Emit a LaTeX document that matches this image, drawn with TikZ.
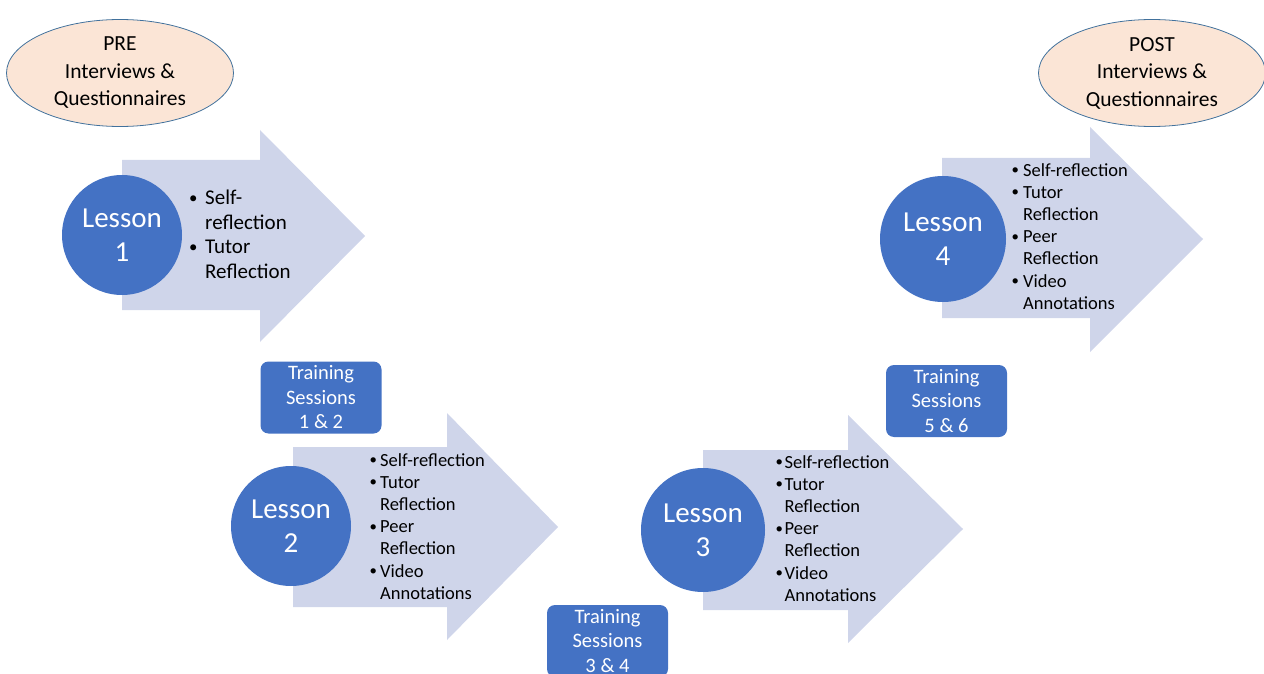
\documentclass[tikz,border=0pt]{standalone}
\usepackage{fontspec}
\usepackage{graphicx}
\setmainfont{Carlito}
\usetikzlibrary{shapes.geometric}
\definecolor{lblue}{HTML}{4472C4}
\definecolor{arrowfill}{RGB}{207,213,234}
\definecolor{peach}{HTML}{FBE5D6}
\definecolor{ellline}{HTML}{41719C}
\newcommand{\bitem}[2]{\makebox[#1][l]{\raisebox{0.08em}{\scalebox{0.8}{\textbullet}}}#2}
\newcommand{\bcont}[2]{\hspace*{#1}#2}
\tikzset{
  chevron/.style={fill=arrowfill, draw=none},
  lessoncirc/.style={circle, fill=lblue, draw=none, text=white, align=center, inner sep=0pt,
    font=\fontsize{29}{34}\selectfont},
  oval/.style={ellipse, fill=peach, draw=ellline, line width=0.8pt, align=center, inner sep=0pt,
    minimum width=227pt, minimum height=107pt, font=\fontsize{21.5}{27.5}\selectfont},
  trainbox/.style={rectangle, rounded corners=8pt, fill=lblue, draw=none, text=white, align=center,
    minimum width=121pt, minimum height=72pt, inner sep=0pt, font=\fontsize{20.5}{24.5}\selectfont},
  bulletsbig/.style={anchor=north west, align=left, inner sep=0pt, font=\fontsize{21}{24.5}\selectfont},
  bullets/.style={anchor=north west, align=left, inner sep=0pt, font=\fontsize{18.5}{22.2}\selectfont},
}
\begin{document}
\begin{tikzpicture}[x=1pt,y=-1pt]
\useasboundingbox (0,0) rectangle (1264,674);
\clip (0,0) rectangle (1264,674);

% ellipses
\node[oval] (pre) at (120,73) {PRE\\Interviews \&\\Questionnaires};
\node[oval] (post) at (1152,73) {POST\\Interviews \&\\Questionnaires};

% arrows
\fill[chevron] (122,160) -- (260,160) -- (260,130) -- (365,236) -- (260,342) -- (260,310) -- (122,310) -- cycle;
\fill[chevron] (293,447) -- (447,447) -- (447,413) -- (558,527) -- (447,640) -- (447,607) -- (293,607) -- cycle;
\fill[chevron] (703,450) -- (848,450) -- (848,415) -- (963,529) -- (848,643) -- (848,610) -- (703,610) -- cycle;
\fill[chevron] (942,158) -- (1090,158) -- (1090,127) -- (1203,239) -- (1090,352) -- (1090,318) -- (942,318) -- cycle;

% lesson circles
\node[lessoncirc, minimum size=120pt] (l1) at (122,235) {Lesson\\1};
\node[lessoncirc, minimum size=120pt] (l2) at (291,526) {Lesson\\2};
\node[lessoncirc, minimum size=124pt] (l3) at (703,530) {Lesson\\3};
\node[lessoncirc, minimum size=126pt] (l4) at (943,239) {Lesson\\4};

% bullet lists
\node[bulletsbig] (b1) at (189,190) {\bitem{16pt}{Self-}\\\bcont{16pt}{reflection}\\\bitem{16pt}{Tutor}\\\bcont{16pt}{Reflection}};
\node[bullets] (b2) at (369.5,453) {\bitem{10.5pt}{Self-reflection}\\\bitem{10.5pt}{Tutor}\\\bcont{10.5pt}{Reflection}\\\bitem{10.5pt}{Peer}\\\bcont{10.5pt}{Reflection}\\\bitem{10.5pt}{Video}\\\bcont{10.5pt}{Annotations}};
\node[bullets] (b3) at (775.5,455) {\bitem{9pt}{Self-reflection}\\\bitem{9pt}{Tutor}\\\bcont{9pt}{Reflection}\\\bitem{9pt}{Peer}\\\bcont{9pt}{Reflection}\\\bitem{9pt}{Video}\\\bcont{9pt}{Annotations}};
\node[bullets] (b4) at (1011.5,163) {\bitem{11.5pt}{Self-reflection}\\\bitem{11.5pt}{Tutor}\\\bcont{11.5pt}{Reflection}\\\bitem{11.5pt}{Peer}\\\bcont{11.5pt}{Reflection}\\\bitem{11.5pt}{Video}\\\bcont{11.5pt}{Annotations}};

% training boxes
\node[trainbox] (t12) at (321,397.5) {Training\\Sessions\\1 \& 2};
\node[trainbox] (t34) at (607.5,641) {Training\\Sessions\\3 \& 4};
\node[trainbox] (t56) at (946.5,401) {Training\\Sessions\\5 \& 6};
\end{tikzpicture}
\end{document}
